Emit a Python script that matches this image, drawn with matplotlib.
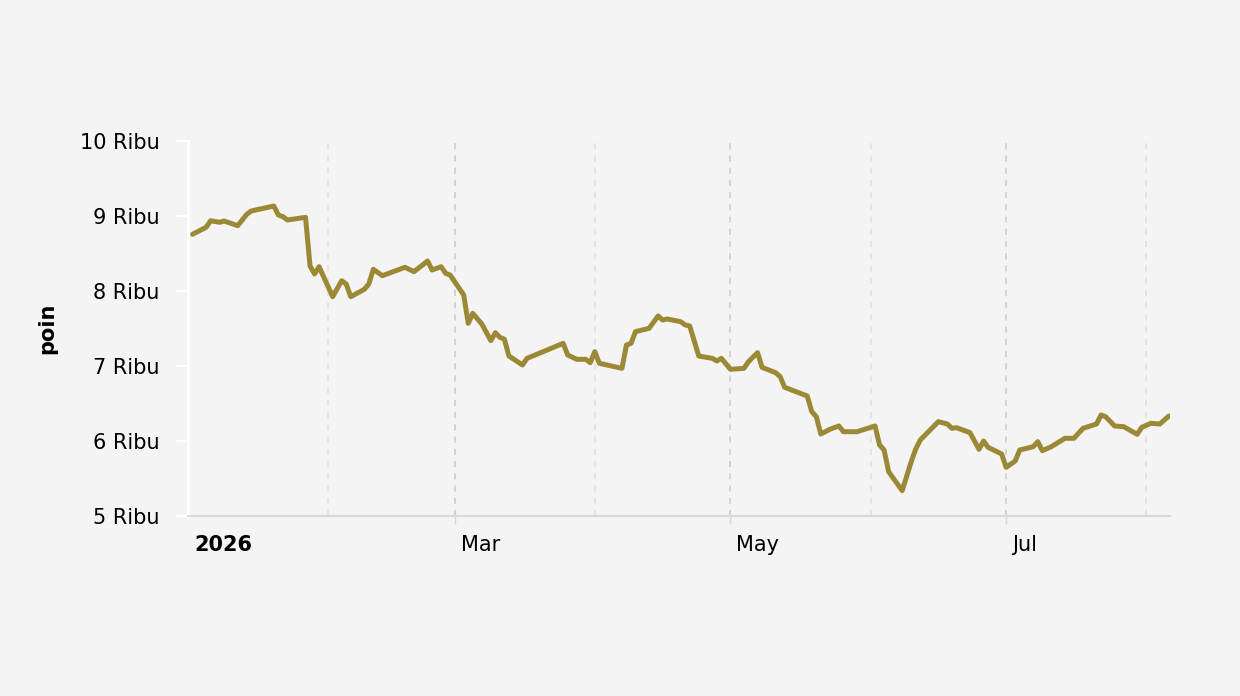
import matplotlib.pyplot as plt
import pandas as pd
from matplotlib.transforms import ScaledTranslation

# nilai indeks (poin)
dates = [
    "2026-01-02", "2026-01-05", "2026-01-06", "2026-01-08", "2026-01-09", "2026-01-12",
    "2026-01-14", "2026-01-15", "2026-01-20", "2026-01-21", "2026-01-22", "2026-01-23",
    "2026-01-27", "2026-01-28", "2026-01-29", "2026-01-30", "2026-02-02", "2026-02-04",
    "2026-02-05", "2026-02-06", "2026-02-09", "2026-02-10", "2026-02-11", "2026-02-13",
    "2026-02-18", "2026-02-20", "2026-02-23", "2026-02-24", "2026-02-26", "2026-02-27",
    "2026-02-28", "2026-03-03", "2026-03-04", "2026-03-05", "2026-03-07", "2026-03-09",
    "2026-03-10", "2026-03-11", "2026-03-12", "2026-03-13", "2026-03-16", "2026-03-17",
    "2026-03-25", "2026-03-26", "2026-03-28", "2026-03-30", "2026-03-31", "2026-04-01",
    "2026-04-02", "2026-04-07", "2026-04-08", "2026-04-09", "2026-04-10", "2026-04-13",
    "2026-04-15", "2026-04-16", "2026-04-17", "2026-04-20", "2026-04-21", "2026-04-22",
    "2026-04-24", "2026-04-27", "2026-04-28", "2026-04-29", "2026-05-01", "2026-05-04",
    "2026-05-05", "2026-05-07", "2026-05-08", "2026-05-11", "2026-05-12", "2026-05-13",
    "2026-05-18", "2026-05-19", "2026-05-20", "2026-05-21", "2026-05-23", "2026-05-25",
    "2026-05-26", "2026-05-29", "2026-06-02", "2026-06-03", "2026-06-04", "2026-06-05",
    "2026-06-08", "2026-06-10", "2026-06-11", "2026-06-12", "2026-06-16", "2026-06-18",
    "2026-06-19", "2026-06-20", "2026-06-23", "2026-06-25", "2026-06-26", "2026-06-27",
    "2026-06-30", "2026-07-01", "2026-07-03", "2026-07-04", "2026-07-07", "2026-07-08",
    "2026-07-09", "2026-07-11", "2026-07-14", "2026-07-16", "2026-07-18", "2026-07-21",
    "2026-07-22", "2026-07-23", "2026-07-25", "2026-07-27", "2026-07-30", "2026-07-31",
    "2026-08-02", "2026-08-04", "2026-08-06",
]
values = [
    8756, 8849, 8937, 8916, 8933, 8871,
    9023, 9067, 9133, 9013, 8991, 8947,
    8982, 8333, 8227, 8324, 7924, 8137,
    8093, 7924, 8022, 8093, 8289, 8204,
    8316, 8258, 8400, 8280, 8324, 8236,
    8213, 7947, 7569, 7702, 7560, 7338,
    7444, 7382, 7356, 7133, 7013, 7102,
    7302, 7147, 7089, 7089, 7044, 7191,
    7036, 6969, 7280, 7302, 7458, 7502,
    7667, 7613, 7627, 7591, 7547, 7533,
    7133, 7102, 7067, 7102, 6956, 6969,
    7058, 7178, 6982, 6911, 6858, 6716,
    6600, 6391, 6324, 6093, 6156, 6200,
    6124, 6124, 6200, 5947, 5880, 5591,
    5338, 5724, 5893, 6013, 6258, 6227,
    6169, 6178, 6111, 5889, 6000, 5916,
    5827, 5649, 5733, 5880, 5924, 5991,
    5871, 5924, 6036, 6036, 6169, 6227,
    6347, 6324, 6200, 6191, 6089, 6182,
    6236, 6227, 6333,
]

x_ticks = ["2026-01-01", "2026-03-01", "2026-05-01", "2026-07-01"]
x_labels = ["2026", "Mar", "May", "Jul"]
x_minor = ["2026-02-01", "2026-04-01", "2026-06-01", "2026-08-01"]
y_ticks = [5000, 6000, 7000, 8000, 9000, 10000]
y_labels = [f"{v // 1000} Ribu" for v in y_ticks]

bg = "#f4f4f4"
fig = plt.figure(figsize=(12.4, 6.96), dpi=100, facecolor=bg)
ax = fig.add_axes([188 / 1240, 1 - 516 / 696, 982 / 1240, 375 / 696])
ax.set_facecolor(bg)

ax.plot(pd.to_datetime(dates), values, color="#9c8936", lw=3.6,
        solid_joinstyle="round", solid_capstyle="round", zorder=3)

ax.set_xlim(pd.Timestamp("2026-01-01"), pd.Timestamp("2026-08-06 06:00"))
ax.set_ylim(5000, 10000)

# sumbu y
ax.set_yticks(y_ticks, y_labels)
ax.tick_params(axis="y", color="white", length=8.4, width=1.5, labelsize=15, pad=12)

# sumbu x
ax.set_xticks(pd.to_datetime(x_ticks), x_labels)
ax.set_xticks(pd.to_datetime(x_minor), minor=True)
ax.tick_params(axis="x", which="major", color="#d4d4d4", length=6, width=1,
               labelsize=15, pad=8)
ax.tick_params(axis="x", which="minor", length=0)
ax.xaxis.get_major_ticks()[0].tick1line.set_visible(False)
offset = ScaledTranslation(6 / 100, 0, fig.dpi_scale_trans)
for i, lbl in enumerate(ax.get_xticklabels()):
    lbl.set_ha("left")
    lbl.set_transform(lbl.get_transform() + offset)
    if i == 0:
        lbl.set_fontweight("bold")

ax.grid(axis="x", which="major", color="#c8c8c8", lw=1.1, linestyle=(0, (4, 4)))
ax.grid(axis="x", which="minor", color="#e0e0e0", lw=1.1, linestyle=(0, (4, 4)))
ax.grid(axis="y", visible=False)

for s in ["top", "right"]:
    ax.spines[s].set_visible(False)
ax.spines["left"].set_color("white")
ax.spines["left"].set_linewidth(2.2)
ax.spines["bottom"].set_color("#d8d8d8")
ax.spines["bottom"].set_linewidth(1.5)

fig.text(47 / 1240, 1 - 328 / 696, "poin", rotation=90, ha="center", va="center",
         fontsize=15, fontweight="bold")

fig.savefig("out.png", dpi=100, facecolor=bg)
